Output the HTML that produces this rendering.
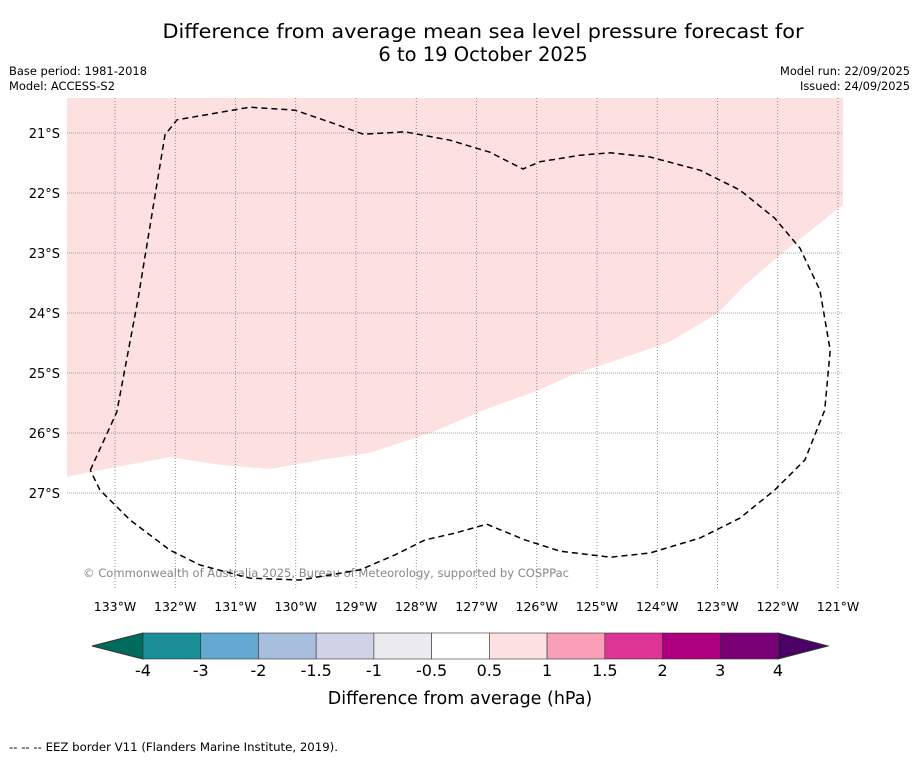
<!DOCTYPE html>
<html><head><meta charset="utf-8"><style>
body{margin:0;background:#fff;width:919px;height:758px;overflow:hidden;font-family:"DejaVu Sans","Liberation Sans",sans-serif;}
svg text{font-family:"DejaVu Sans","Liberation Sans",sans-serif;}
</style></head><body>
<svg id="chart" width="919" height="758" xmlns="http://www.w3.org/2000/svg">
<text x="483" y="38" font-size="19.5" text-anchor="middle" textLength="641" lengthAdjust="spacingAndGlyphs">Difference from average mean sea level pressure forecast for</text>
<text x="483" y="61" font-size="19.5" text-anchor="middle">6 to 19 October 2025</text>
<text x="9" y="75" font-size="11.5" textLength="138" lengthAdjust="spacingAndGlyphs">Base period: 1981-2018</text>
<text x="9" y="90" font-size="11.5" textLength="106" lengthAdjust="spacingAndGlyphs">Model: ACCESS-S2</text>
<text x="910" y="75" font-size="11.5" text-anchor="end" textLength="130" lengthAdjust="spacingAndGlyphs">Model run: 22/09/2025</text>
<text x="910" y="90" font-size="11.5" text-anchor="end" textLength="110" lengthAdjust="spacingAndGlyphs">Issued: 24/09/2025</text>
<g id="map"></g>
<g id="cbar"></g>
<text x="460" y="704" font-size="17.5" text-anchor="middle">Difference from average (hPa)</text>
<text x="9" y="751" font-size="11.5" textLength="329" lengthAdjust="spacingAndGlyphs">--  --  -- EEZ border V11 (Flanders Marine Institute, 2019).</text>
</svg>
<script>
const lonTicks=[133,132,131,130,129,128,127,126,125,124,123,122,121];
const latTicks=[21,22,23,24,25,26,27];
const pinkLon=[120.92,121.96,122.54,122.99,123.79,124.78,125.41,125.95,126.78,127.77,128.77,129.60,130.43,131.26,132.09,133.05,133.80];
const pinkLat=[22.20,23.03,23.53,24.00,24.48,24.82,25.03,25.28,25.58,26.00,26.33,26.45,26.60,26.53,26.40,26.58,26.73];
const eezLon=[133.41,132.97,132.62,132.17,131.97,130.76,130.01,129.43,128.88,128.19,127.44,126.78,126.23,125.95,125.28,124.78,124.12,123.29,122.63,122.05,121.63,121.30,121.13,121.22,121.55,122.05,122.63,123.29,124.12,124.78,125.61,126.20,126.83,127.36,127.85,128.35,128.93,129.93,130.76,131.59,132.09,132.75,133.25,133.41];
const eezLat=[26.62,25.65,23.78,21.03,20.78,20.57,20.62,20.82,21.02,20.98,21.12,21.32,21.60,21.48,21.37,21.33,21.40,21.62,21.95,22.42,22.92,23.62,24.62,25.62,26.45,26.95,27.42,27.75,28.00,28.07,27.97,27.78,27.52,27.67,27.78,28.03,28.28,28.45,28.42,28.20,27.95,27.45,26.95,26.62];
const cbColors=["#1a8f98","#63a9d0","#a8bedd","#d0d2e6","#ecebef","#ffffff","#fde0e0","#f9a0b8","#dd3596","#ae007e","#7a0076"];
const cbLabels=["-4","-3","-2","-1.5","-1","-0.5","0.5","1","1.5","2","3","4"];
const NS="http://www.w3.org/2000/svg";
const X0=67,X1=843,Y0=98,Y1=590;
const xs=lon=>115+(133-lon)*60.25;
const ys=lat=>133+(lat-21)*60;
function mk(t,a,p){const e=document.createElementNS(NS,t);for(const k in a)e.setAttribute(k,a[k]);p.appendChild(e);return e;}
const map=document.getElementById('map');
const defs=mk('defs',{},map);
const cp=mk('clipPath',{id:'clip'},defs);mk('rect',{x:X0,y:Y0,width:X1-X0,height:Y1-Y0},cp);
let d=`M${X0},${Y0} L${X1},${Y0} `;
pinkLon.forEach((l,i)=>{d+=`L${xs(l).toFixed(1)},${ys(pinkLat[i]).toFixed(1)} `;});
d+='Z';
const pink=mk('path',{d:d,fill:'#fde0e0','clip-path':'url(#clip)'},map);


lonTicks.forEach(l=>{const x=xs(l);
 const g=mk('line',{x1:x,y1:Y0,x2:x,y2:Y1,stroke:'#777','stroke-width':0.8,'stroke-dasharray':'1,2'},map);
 
 const t=mk('text',{x:x,y:611,'font-size':12.5,'text-anchor':'middle'},map);t.textContent=l+'°W';
 });
latTicks.forEach(l=>{const y=ys(l);
 const g=mk('line',{x1:X0,y1:y,x2:X1,y2:y,stroke:'#888','stroke-width':0.8,'stroke-dasharray':'1,1'},map);
 
 const t=mk('text',{x:60,y:y+5,'font-size':13,'text-anchor':'end'},map);t.textContent=l+'°S';
 });
const cr=mk('text',{x:83,y:577,'font-size':11.5,fill:'#888',textLength:486,lengthAdjust:'spacingAndGlyphs'},map);cr.textContent='© Commonwealth of Australia 2025, Bureau of Meteorology, supported by COSPPac';

let e='';eezLon.forEach((l,i)=>{e+=(i?'L':'M')+xs(l).toFixed(1)+','+ys(eezLat[i]).toFixed(1)+' ';});
const eez=mk('path',{d:e,fill:'none',stroke:'#000','stroke-width':1.5,'stroke-dasharray':'6,4','stroke-linejoin':'round','clip-path':'url(#clip)'},map);

const cb=document.getElementById('cbar');
const cx0=143,cw=(778-143)/cbColors.length,cy=633,ch=26;
mk('polygon',{points:`92,646 ${cx0},${cy} ${cx0},${cy+ch}`,fill:'#006b5d',stroke:'#333'},cb);
mk('polygon',{points:`828,646 778,${cy} 778,${cy+ch}`,fill:'#4a0065',stroke:'#333'},cb);
cbColors.forEach((c,i)=>{const r=mk('rect',{x:cx0+i*cw,y:cy,width:cw,height:ch,fill:c,stroke:'#333','stroke-width':0.6},cb);
 });
cbLabels.forEach((s,i)=>{const t=mk('text',{x:cx0+i*cw,y:676,'font-size':16,'text-anchor':'middle'},cb);t.textContent=s;
 });
</script>
</body></html>
